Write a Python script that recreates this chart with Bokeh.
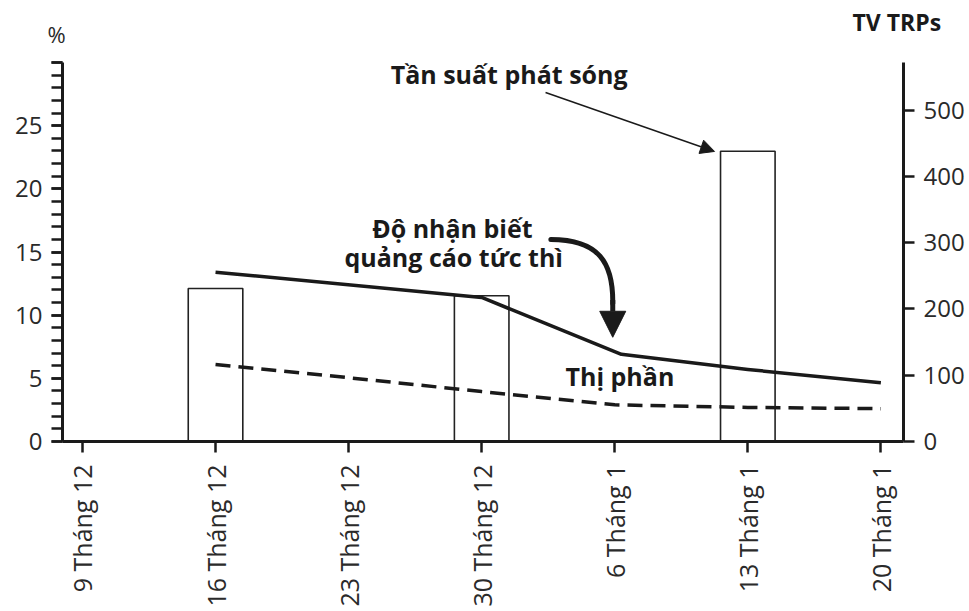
import math
from bokeh.plotting import figure
from bokeh.models import Range1d, LinearAxis, FixedTicker, Label, Arrow, NormalHead
from bokeh.embed import file_html
from bokeh.resources import INLINE

# ---- data ----
week_labels = ["9 Tháng 12", "16 Tháng 12", "23 Tháng 12", "30 Tháng 12",
               "6 Tháng 1", "13 Tháng 1", "20 Tháng 1"]
week_pos = [0, 1, 2, 3, 4, 5, 6]

bar_weeks = [1, 3, 5]
tv_trps = [231, 220, 438]

awareness_weeks = [1, 3, 4.05, 5, 6]
awareness = [13.4, 11.4, 6.9, 5.7, 4.65]

share_weeks = [1, 2, 3, 4, 5, 6]
share = [6.1, 5.05, 3.95, 2.9, 2.7, 2.6]

left_ticks = [0, 5, 10, 15, 20, 25, 30]
left_minor = list(range(0, 31))
right_ticks = [0, 100, 200, 300, 400, 500]

FONT = "Open Sans"
INK = "#1a1a1a"

p = figure(width=969, height=611,
           x_range=Range1d(-0.15, 6.17), y_range=Range1d(0, 30),
           output_backend="svg", toolbar_location=None,
           min_border_left=62, min_border_right=66,
           min_border_top=62, min_border_bottom=170)
p.extra_y_ranges = {"trp": Range1d(0, 572)}
p.outline_line_color = None
p.xgrid.visible = False
p.ygrid.visible = False
p.background_fill_color = "white"
p.border_fill_color = "white"

# bars (TV TRPs on right axis)
p.vbar(x=bar_weeks, top=tv_trps, bottom=0, width=0.41, y_range_name="trp",
       fill_color="white", line_color="#222222", line_width=1.6)

# lines
p.line(awareness_weeks, awareness, line_color=INK, line_width=3.5, line_join="round")
p.line(share_weeks, share, line_color=INK, line_width=3.5, line_dash="15 8")

def style_axis(ax):
    ax.axis_line_color = INK
    ax.axis_line_width = 3
    ax.major_tick_line_color = INK
    ax.major_tick_line_width = 2.5
    ax.major_tick_out = 11
    ax.major_tick_in = 0
    ax.minor_tick_line_color = INK
    ax.minor_tick_line_width = 2.5
    ax.minor_tick_out = 11
    ax.minor_tick_in = 0
    ax.major_label_text_font = FONT
    ax.major_label_text_font_size = "24px"
    ax.major_label_text_color = "#2a2a2a"
    ax.major_label_standoff = 9

# bottom axis
xa = p.xaxis[0]
style_axis(xa)
xa.ticker = FixedTicker(ticks=week_pos)
xa.major_label_overrides = {i: lab for i, lab in zip(week_pos, week_labels)}
xa.major_label_orientation = math.pi / 2
xa.minor_tick_line_color = None
xa.major_label_standoff = 12
xa.major_label_text_font_size = "25px"

# left axis
ya = p.yaxis[0]
style_axis(ya)
ya.ticker = FixedTicker(ticks=left_ticks, minor_ticks=left_minor)
ya.major_label_overrides = {30: ""}

# right axis
ra = LinearAxis(y_range_name="trp", ticker=FixedTicker(ticks=right_ticks))
style_axis(ra)
ra.minor_tick_line_color = None
p.add_layout(ra, "right")

# axis unit texts above the frame (side panel labels are not clipped)
p.add_layout(Label(x=-15, y=29, x_units="screen", y_units="screen", text="%",
                   text_font=FONT, text_font_size="22px", text_color="#2a2a2a",
                   text_align="left", text_baseline="alphabetic"), "above")
p.add_layout(Label(x=790, y=11, x_units="screen", y_units="screen", text="TV TRPs",
                   text_font=FONT, text_font_size="23px", text_font_style="bold",
                   text_color=INK, text_align="left", text_baseline="alphabetic"), "above")

# texts inside the frame
p.add_layout(Label(x=2.316, y=29.1, text="Tần suất phát sóng", text_font=FONT,
                   text_font_size="25px", text_font_style="bold", text_color=INK,
                   text_align="left", text_baseline="alphabetic"))
p.add_layout(Label(x=2.78, y=16.9, text="Độ nhận biết", text_font=FONT,
                   text_font_size="25px", text_font_style="bold", text_color=INK,
                   text_align="center", text_baseline="alphabetic"))
p.add_layout(Label(x=2.79, y=14.6, text="quảng cáo tức thì", text_font=FONT,
                   text_font_size="25px", text_font_style="bold", text_color=INK,
                   text_align="center", text_baseline="alphabetic"))
p.add_layout(Label(x=3.63, y=5.18, text="Thị phần", text_font=FONT,
                   text_font_size="25px", text_font_style="bold", text_color=INK,
                   text_align="left", text_baseline="alphabetic"))

# thin arrow to the big bar
p.add_layout(Arrow(end=NormalHead(size=14, fill_color=INK, line_color=INK, line_width=1),
                   x_start=3.48, y_start=27.63, x_end=4.75, y_end=22.96,
                   line_color=INK, line_width=1.5))

# curved thick arrow
p.bezier(x0=[3.52], y0=[15.99], x1=[3.985], y1=[10.9],
         cx0=[3.88], cy0=[15.99], cx1=[3.99], cy1=[14.17],
         line_color=INK, line_width=5, line_cap="round")
p.add_layout(Arrow(end=NormalHead(size=26, fill_color=INK, line_color=INK, line_width=1),
                   x_start=3.985, y_start=11.2, x_end=3.985, y_end=8.25,
                   line_color=INK, line_width=5))

open("out.html", "w").write(file_html(p, INLINE))
